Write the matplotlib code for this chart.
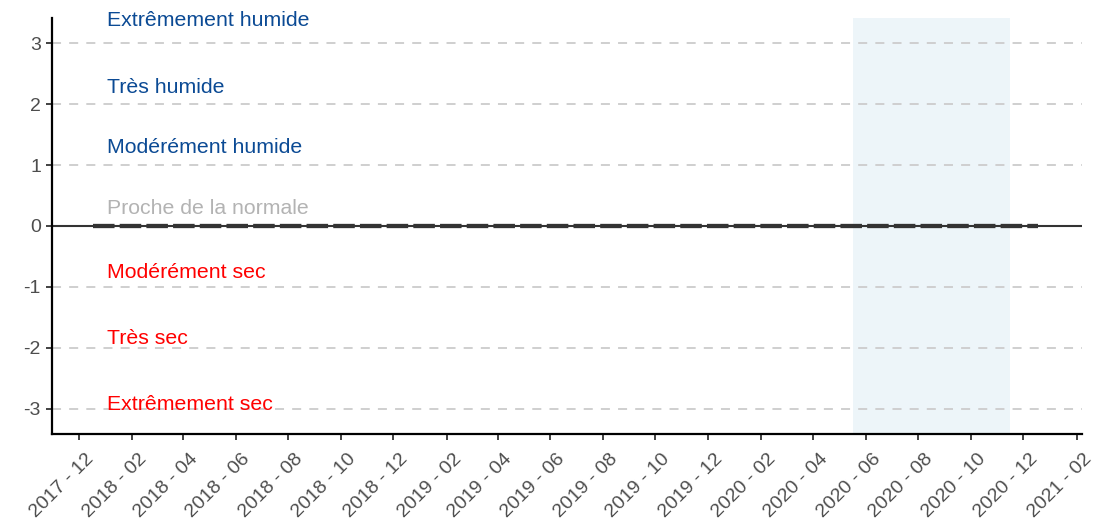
import matplotlib
matplotlib.use('Agg')
import matplotlib.pyplot as plt
import matplotlib.dates as mdates
import matplotlib.transforms as mtransforms
import pandas as pd

plt.rcParams['font.family'] = ['Liberation Sans', 'DejaVu Sans']
plt.rcParams['axes.unicode_minus'] = False

# Series: monthly index, flat at 0
dates = pd.date_range('2017-12-01', '2020-12-01', freq='MS') + pd.Timedelta(days=17)
values = [0, 0, 0, 0, 0, 0, 0, 0, 0, 0, 0, 0, 0,
          0, 0, 0, 0, 0, 0, 0, 0, 0, 0, 0, 0,
          0, 0, 0, 0, 0, 0, 0, 0, 0, 0, 0, 0]

# Highlighted period
shade_start = pd.Timestamp('2020-05-17')
shade_end = pd.Timestamp('2020-11-15')

# Category labels
class_labels = ['Extrêmement humide', 'Très humide', 'Modérément humide',
                'Proche de la normale', 'Modérément sec', 'Très sec', 'Extrêmement sec']
class_colors = ['#0B4A94', '#0B4A94', '#0B4A94', '#B3B3B3', '#FF0000', '#FF0000', '#FF0000']
class_y = [3.37, 2.27, 1.29, 0.28, -0.77, -1.84, -2.93]

yticks = [-3, -2, -1, 0, 1, 2, 3]
xticks = pd.date_range('2017-12-01', '2021-02-01', freq='2MS')

fig = plt.figure(figsize=(11.07, 5.24), dpi=100)
ax = fig.add_axes([52 / 1107, 1 - 434 / 524, (1082 - 52) / 1107, (434 - 18) / 524])

ax.axvspan(shade_start, shade_end, color='#EDF5F9', zorder=0, lw=0)

for y in yticks:
    if y != 0:
        ax.axhline(y, color='#CCCCCC', lw=1.3, dashes=(5, 4.5), zorder=1)
ax.axhline(0, color='#333333', lw=1.5, zorder=2)

ax.plot(dates, values, color='#333333', lw=3.1, dashes=(5, 1.2),
        dash_capstyle='butt', zorder=3)

x0 = pd.Timestamp('2018-01-03')
for lab, col, y in zip(class_labels, class_colors, class_y):
    ax.text(x0, y, lab, color=col, fontsize=15.3, ha='left', va='center', zorder=4)

ax.set_xlim(pd.Timestamp('2017-10-31'), pd.Timestamp('2021-02-07'))
ax.set_ylim(-3.41, 3.41)
ax.set_yticks(yticks)
ax.set_xticks(xticks)
ax.xaxis.set_major_formatter(mdates.DateFormatter('%Y - %m'))

ax.tick_params(axis='both', colors='#333333', labelcolor='#4D4D4D', labelsize=14,
               length=4.5, width=1.3)
ax.tick_params(axis='x', pad=5)
for side in ['top', 'right']:
    ax.spines[side].set_visible(False)
for side in ['left', 'bottom']:
    ax.spines[side].set_linewidth(1.6)
    ax.spines[side].set_color('black')

# rotated date labels, nudged right/down like the original
shift = mtransforms.ScaledTranslation(6 / 100, -3 / 100, fig.dpi_scale_trans)
for lbl in ax.get_xticklabels():
    lbl.set_rotation(45)
    lbl.set_ha('right')
    lbl.set_va('top')
    lbl.set_rotation_mode('anchor')
    lbl.set_transform(lbl.get_transform() + shift)

fig.savefig('out.png', dpi=100)
